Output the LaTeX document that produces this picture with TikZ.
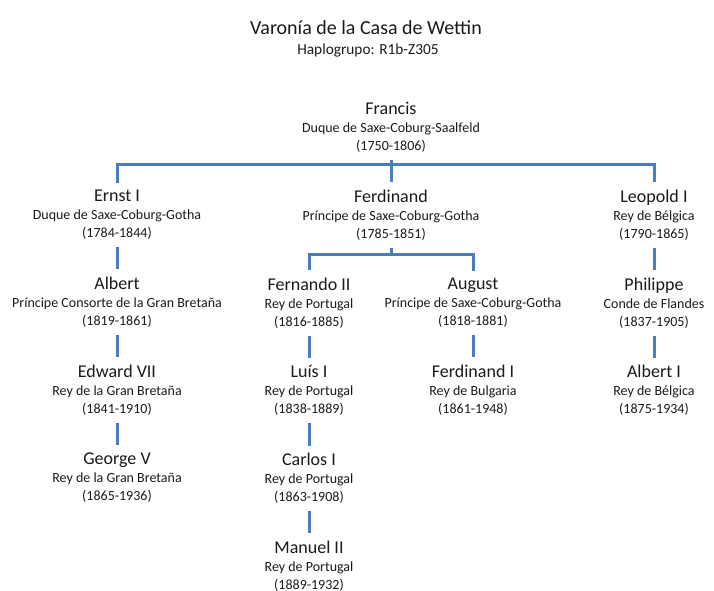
\documentclass[tikz,border=0pt]{standalone}
\usepackage{fontspec}
\setmainfont{Carlito}
\usepackage{tikz}
\usetikzlibrary{positioning}
\usepackage{xcolor}
\definecolor{linkblue}{HTML}{4A7EBB}
\definecolor{inktext}{HTML}{1A1A1A}
\newcommand{\pname}[1]{{\fontsize{13.5}{13.5}\selectfont #1}}
\tikzset{
  person/.style={
    align=center,
    inner sep=3pt,
    text=inktext,
    font=\fontsize{10.5}{13.5}\selectfont
  },
  link/.style={
    draw=linkblue,
    line width=2.25pt,
    shorten <=2.5pt,
    shorten >=2.5pt
  }
}
\begin{document}
\begin{tikzpicture}[x=0.75pt,y=0.75pt,node distance=21.6pt]
\useasboundingbox (0,0) rectangle (714,-591);
\node[text=inktext, font=\fontsize{15}{18}\selectfont] (title) at (366,-28) {Varonía de la Casa de Wettin};
\node[text=inktext, font=\fontsize{11.5}{14}\selectfont] (haplo) at (368,-50) {Haplogrupo: R1b-Z305};
% top of the line
\node[person] (francis) at (391,-127) {\pname{Francis}\\Duque de Saxe-Coburg-Saalfeld\\(1750-1806)};
\node[person] (ernst) at (117,-215) {\pname{Ernst I}\\Duque de Saxe-Coburg-Gotha\\(1784-1844)};
\node[person] (ferdinand) at (391,-215) {\pname{Ferdinand}\\Príncipe de Saxe-Coburg-Gotha\\(1785-1851)};
\node[person] (leopold) at (654,-215) {\pname{Leopold I}\\Rey de Bélgica\\(1790-1865)};
% british branch
\node[person, below=of ernst] (albert) {\pname{Albert}\\Príncipe Consorte de la Gran Bretaña\\(1819-1861)};
\node[person, below=of albert] (edward) {\pname{Edward VII}\\Rey de la Gran Bretaña\\(1841-1910)};
\node[person, below=of edward] (george) {\pname{George V}\\Rey de la Gran Bretaña\\(1865-1936)};
% portuguese and bulgarian branches
\node[person] (fernando) at (309,-303) {\pname{Fernando II}\\Rey de Portugal\\(1816-1885)};
\node[person] (august) at (473,-303) {\pname{August}\\Príncipe de Saxe-Coburg-Gotha\\(1818-1881)};
\node[person, below=of fernando] (luis) {\pname{Luís I}\\Rey de Portugal\\(1838-1889)};
\node[person, below=of luis] (carlos) {\pname{Carlos I}\\Rey de Portugal\\(1863-1908)};
\node[person, below=of carlos] (manuel) {\pname{Manuel II}\\Rey de Portugal\\(1889-1932)};
\node[person, below=of august] (ferdbul) {\pname{Ferdinand I}\\Rey de Bulgaria\\(1861-1948)};
% belgian branch
\node[person, below=of leopold] (philippe) {\pname{Philippe}\\Conde de Flandes\\(1837-1905)};
\node[person, below=of philippe] (albertbel) {\pname{Albert I}\\Rey de Bélgica\\(1875-1934)};
% connectors
\coordinate (bar) at (391,-165);
\coordinate (subbar) at (391,-255);
\draw[link, shorten >=0pt] (francis) -- (bar);
\draw[link] (ernst.north) |- (bar) -| (leopold.north);
\draw[link, shorten <=0pt] (bar) -- (ferdinand);
\draw[link, shorten >=0pt] (ferdinand) -- (subbar);
\draw[link] (fernando.north) |- (subbar) -| (august.north);
\draw[link] (ernst) -- (albert);
\draw[link] (albert) -- (edward);
\draw[link] (edward) -- (george);
\draw[link] (fernando) -- (luis);
\draw[link] (luis) -- (carlos);
\draw[link] (carlos) -- (manuel);
\draw[link] (august) -- (ferdbul);
\draw[link] (leopold) -- (philippe);
\draw[link] (philippe) -- (albertbel);
\end{tikzpicture}
\end{document}
